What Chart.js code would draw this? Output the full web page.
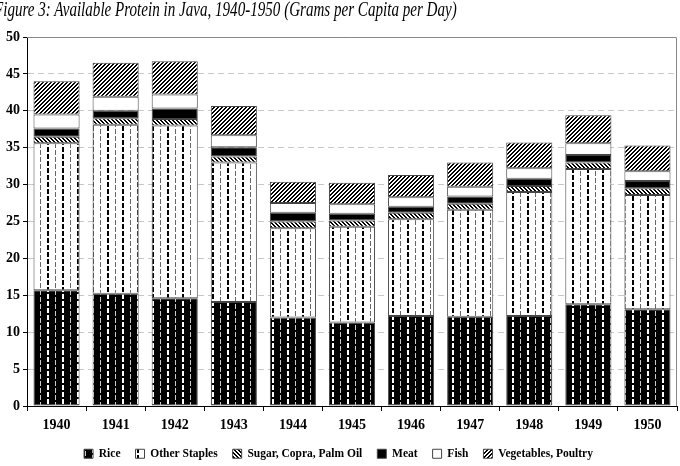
<!DOCTYPE html>
<html>
<head>
<meta charset="utf-8">
<script src="https://cdn.jsdelivr.net/npm/chart.js@4/dist/chart.umd.min.js"></script>
<style>
  html, body { margin: 0; padding: 0; background: #fff; overflow: hidden; }
  #wrap { position: relative; width: 680px; height: 466px; }
  #title {
    position: absolute; left: -6px; top: -2px; white-space: nowrap;
    font: italic 20px "Liberation Serif", "Times New Roman", serif; color: #000;
    transform-origin: 0 0;
  }
</style>
</head>
<body>
<div id="wrap">
  <div id="title">Figure 3: Available Protein in Java, 1940-1950 (Grams per Capita per Day)</div>
  <canvas id="chart" width="680" height="466"></canvas>
</div>
<script>
// data
const years = ['1940', '1941', '1942', '1943', '1944', '1945', '1946', '1947', '1948', '1949', '1950'];
const rice         = [15.7, 15.2, 14.6, 14.1, 12.0, 11.3, 12.2, 12.1, 12.2, 13.8, 13.1];
const otherStaples = [19.9, 22.9, 23.4, 18.9, 12.1, 13.0, 13.1, 14.5, 16.8, 18.3, 15.5];
const sugarCopra   = [0.9, 0.9, 0.9, 0.8, 0.9, 0.85, 0.9, 0.8, 0.8, 0.9, 0.9];
const meat         = [1.1, 1.0, 1.4, 1.25, 1.2, 0.9, 0.8, 1.0, 1.0, 1.0, 1.0];
const fish         = [1.9, 1.9, 1.9, 1.65, 1.3, 1.3, 1.3, 1.3, 1.4, 1.6, 1.3];
const vegPoultry   = [4.5, 4.6, 4.5, 3.95, 2.9, 2.9, 3.0, 3.3, 3.5, 3.8, 3.5];
const yTicks = [0, 5, 10, 15, 20, 25, 30, 35, 40, 45, 50];

// squeeze the title to the width it has in the original
const t = document.getElementById('title');
t.style.transform = 'scaleX(' + (463 / t.offsetWidth) + ')';

// fill patterns
function pattern(w, h, draw) {
  const c = document.createElement('canvas');
  c.width = w; c.height = h;
  const g = c.getContext('2d');
  draw(g);
  return g.createPattern(c, 'repeat');
}
// dashes: thick column and thin column, 7-8px apart, rows offset
function dashes(bg, thick, thin) {
  return pattern(15, 7, g => {
    g.fillStyle = bg; g.fillRect(0, 0, 15, 7);
    g.fillStyle = thick; g.fillRect(2, 0, 2, 5);
    g.fillStyle = thin; g.fillRect(10, 3, 1, 4); g.fillRect(10, 0, 1, 1);
  });
}
// diagonal stripes, dir 1 = "\" and -1 = "/"
function stripes(dir) {
  return pattern(4, 4, g => {
    g.fillStyle = '#fff'; g.fillRect(0, 0, 4, 4);
    g.fillStyle = '#000';
    for (let x = 0; x < 4; x++) for (let y = 0; y < 4; y++)
      if ((((x - dir * y) % 4) + 4) % 4 < 2) g.fillRect(x, y, 1, 1);
  });
}
const ricePat = dashes('#000', '#fff', '#ccc');
const staplesPat = dashes('#fff', '#000', '#666');
const sugarPat = stripes(1);
const vegPat = stripes(-1);

const serif = '"Liberation Serif", "Times New Roman", serif';

function ds(label, data, fill) {
  return {
    label: label, data: data, backgroundColor: fill,
    borderColor: '#444', borderWidth: 1, borderSkipped: false
  };
}

// grey frame on top and right of the plot
const frame = {
  id: 'frame',
  beforeDatasetsDraw(chart) {
    const a = chart.chartArea, c = chart.ctx;
    c.save();
    c.strokeStyle = '#888';
    c.lineWidth = 1;
    c.beginPath();
    c.moveTo(a.left, a.top + 0.5);
    c.lineTo(a.right - 0.5, a.top + 0.5);
    c.lineTo(a.right - 0.5, a.bottom);
    c.stroke();
    c.restore();
  }
};

new Chart(document.getElementById('chart'), {
  type: 'bar',
  data: {
    labels: years,
    datasets: [
      ds('Rice', rice, ricePat),
      ds('Other Staples', otherStaples, staplesPat),
      ds('Sugar, Copra, Palm Oil', sugarCopra, sugarPat),
      ds('Meat', meat, '#000'),
      ds('Fish', fish, '#fff'),
      ds('Vegetables, Poultry', vegPoultry, vegPat)
    ]
  },
  options: {
    responsive: false,
    animation: false,
    categoryPercentage: 1,
    barPercentage: 0.78,
    layout: { padding: { top: 37, right: 3, bottom: 0, left: 0 } },
    scales: {
      x: {
        stacked: true,
        afterFit: s => { s.height = 27; },
        grid: { offset: true, drawOnChartArea: false, tickLength: 5, tickColor: '#000' },
        border: { color: '#000' },
        ticks: { color: '#000', padding: 6, font: { family: serif, size: 14, weight: 'bold' } }
      },
      y: {
        stacked: true,
        min: 0, max: 50,
        afterBuildTicks: s => { s.ticks = yTicks.map(v => ({ value: v })); },
        afterFit: s => { s.width = 27; },
        grid: { color: '#c8c8c8', tickColor: '#000', tickLength: 4, tickBorderDash: [] },
        border: { color: '#000', dash: [6, 4] },
        ticks: { color: '#000', padding: 3, font: { family: serif, size: 14, weight: 'bold' } }
      }
    },
    plugins: {
      tooltip: { enabled: false },
      title: { display: false },
      legend: {
        position: 'bottom',
        maxHeight: 33,
        labels: {
          color: '#000', boxWidth: 9, boxHeight: 9, padding: 15,
          font: { family: serif, size: 11.5, weight: 'bold' }
        }
      }
    }
  },
  plugins: [frame]
});
</script>
</body>
</html>
